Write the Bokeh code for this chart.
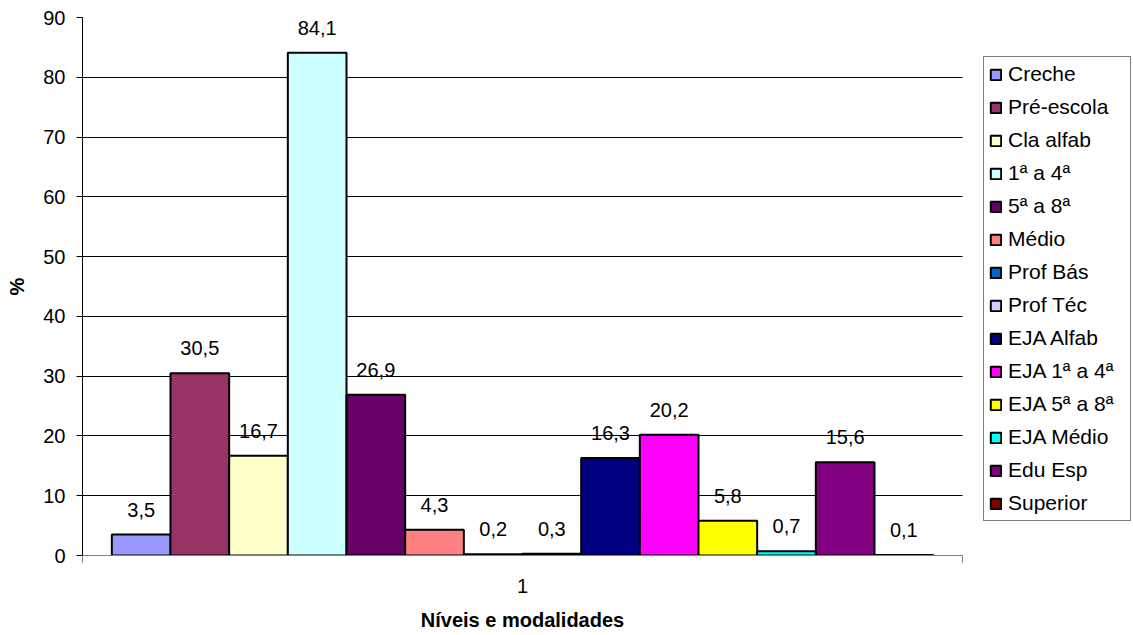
from bokeh.plotting import figure
from bokeh.models import (ColumnDataSource, Range1d, FixedTicker, Legend,
                          LegendItem, LinearAxis)
from bokeh.core.properties import value
from bokeh.embed import file_html
from bokeh.resources import INLINE

# Níveis e modalidades de ensino
categorias = ["Creche", "Pré-escola", "Cla alfab", "1ª a 4ª", "5ª a 8ª",
              "Médio", "Prof Bás", "Prof Téc", "EJA Alfab", "EJA 1ª a 4ª",
              "EJA 5ª a 8ª", "EJA Médio", "Edu Esp", "Superior"]
percentuais = [3.5, 30.5, 16.7, 84.1, 26.9, 4.3, 0.2, 0.3, 16.3, 20.2,
               5.8, 0.7, 15.6, 0.1]
cores = ["#9999FF", "#993366", "#FFFFCC", "#CCFFFF", "#660066", "#FF8080",
         "#0066CC", "#CCCCFF", "#000080", "#FF00FF", "#FFFF00", "#00FFFF",
         "#800080", "#800000"]
y_ticks = [0, 10, 20, 30, 40, 50, 60, 70, 80, 90]
grupo = "1"
titulo_x = "Níveis e modalidades"

FONT = "Liberation Sans"
FS = "20px"

W, H = 1133, 635
LEFT, TOP, BOTTOM = 82, 17, 80
BARS_W = 880                       # largura da área das barras, em px
FRAME_W = W - LEFT                 # a legenda fica dentro da área de plotagem

n = len(categorias)
posicoes = list(range(n))
centro = (n - 1) / 2
x_end = -1 + (n + 1) * FRAME_W / BARS_W

src = ColumnDataSource(dict(
    x=posicoes,
    top=percentuais,
    cor=cores,
    cat=categorias,
    rotulo=[f"{v:.1f}".replace(".", ",") for v in percentuais],
))

p = figure(width=W, height=H, output_backend="svg", toolbar_location=None,
           x_range=Range1d(-1, x_end), y_range=Range1d(0, y_ticks[-1]),
           min_border_left=LEFT, min_border_right=0,
           min_border_top=TOP, min_border_bottom=BOTTOM)
p.outline_line_color = None
p.background_fill_color = "white"
p.border_fill_color = "white"

bars = p.vbar(x="x", top="top", width=1.0, source=src, fill_color="cor",
              line_color="black", line_width=2)

p.text(x="x", y="top", text="rotulo", source=src, text_align="center",
       text_baseline="alphabetic", y_offset=-25, text_font=value(FONT),
       text_font_size=FS, text_color="black")

# eixo y
p.yaxis.ticker = FixedTicker(ticks=y_ticks)
p.yaxis.axis_label = "%"
p.yaxis.axis_label_text_font = FONT
p.yaxis.axis_label_text_font_size = FS
p.yaxis.axis_label_text_font_style = "bold"
p.yaxis.axis_label_text_color = "black"
p.yaxis.axis_label_standoff = 12
p.yaxis.major_label_text_font = FONT
p.yaxis.major_label_text_font_size = FS
p.yaxis.major_label_text_color = "black"
p.yaxis.major_label_standoff = 11
p.yaxis.major_tick_out = 6
p.yaxis.major_tick_in = 0
p.yaxis.minor_tick_line_color = None
p.yaxis.axis_line_color = "black"
p.yaxis.major_tick_line_color = "black"

# eixo x (categoria única "1")
xax = p.xaxis[0]
xax.bounds = (-1, n)
xax.ticker = FixedTicker(ticks=[centro], minor_ticks=[-1, n])
xax.major_label_overrides = {centro: grupo}
xax.major_label_text_font = FONT
xax.major_label_text_font_size = FS
xax.major_label_text_color = "black"
xax.major_label_standoff = 16
xax.major_tick_out = 0
xax.major_tick_in = 0
xax.minor_tick_out = 7
xax.minor_tick_in = 0
xax.minor_tick_line_color = "#808080"
xax.axis_line_color = "#808080"

# título do eixo x, centrado sob as barras
tit = LinearAxis(ticker=FixedTicker(ticks=[centro], minor_ticks=[]),
                 major_label_overrides={centro: titulo_x},
                 axis_line_color=None, major_tick_line_color=None,
                 minor_tick_line_color=None,
                 major_label_text_font=FONT, major_label_text_font_size=FS,
                 major_label_text_font_style="bold",
                 major_label_text_color="black",
                 major_label_standoff=7)
p.add_layout(tit, "below")

p.xgrid.visible = False
p.ygrid.ticker = FixedTicker(ticks=y_ticks)
p.ygrid.grid_line_color = "black"
p.ygrid.grid_line_width = 1
p.ygrid.cross_bounds = (-1, n)

legend = Legend(
    items=[LegendItem(label=c, renderers=[bars], index=i)
           for i, c in enumerate(categorias)],
    location=(901, 34),
    orientation="vertical",
    border_line_color="black",
    border_line_width=1,
    background_fill_color="white",
    background_fill_alpha=1,
    label_text_font=FONT,
    label_text_font_size="21px",
    label_text_color="black",
    glyph_width=13,
    glyph_height=13,
    label_standoff=6,
    label_width=117,
    label_height=20,
    spacing=9,
    padding=5,
    margin=0,
)
p.add_layout(legend)

open("out.html", "w").write(file_html(p, INLINE))
